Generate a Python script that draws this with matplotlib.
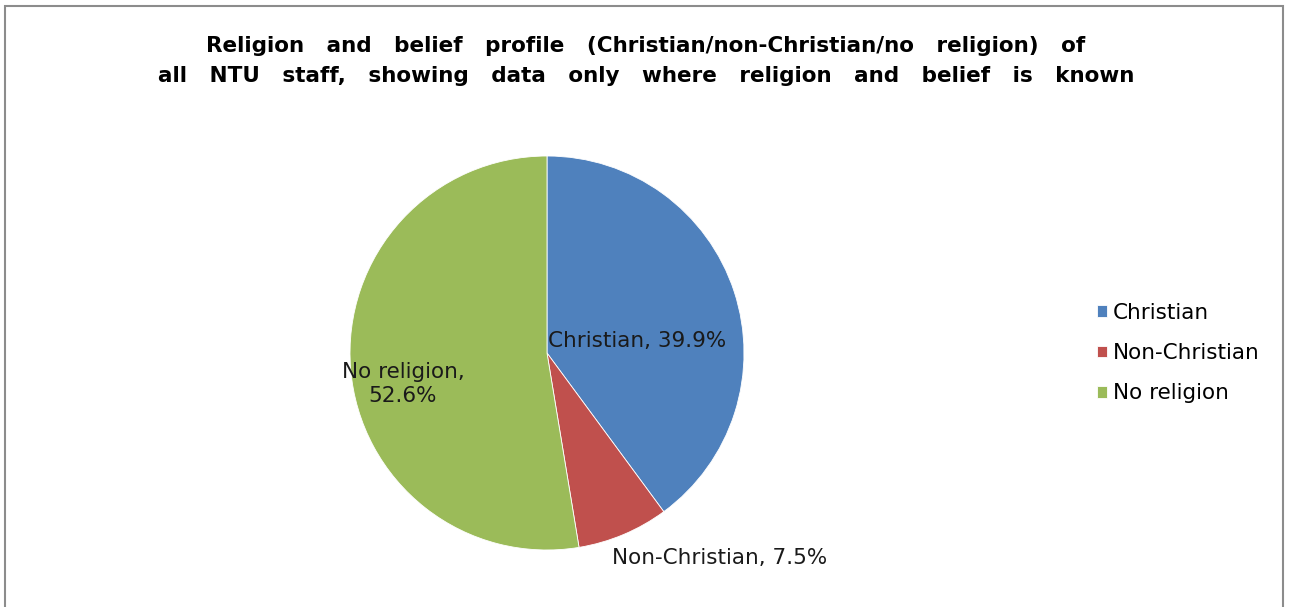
import matplotlib
matplotlib.use('Agg')
import matplotlib.pyplot as plt
from matplotlib.patches import Rectangle

# Data
labels = ['Christian', 'Non-Christian', 'No religion']
values = [39.9, 7.5, 52.6]
colors = ['#4F81BD', '#C0504D', '#9BBB59']
title = ('Religion   and   belief   profile   (Christian/non-Christian/no   religion)   of\n'
         'all   NTU   staff,   showing   data   only   where   religion   and   belief   is   known')

plt.rcParams['font.family'] = ['DejaVu Sans']

W, H = 1290, 607
fig = plt.figure(figsize=(W / 100, H / 100), dpi=100)

# outer frame
fig.add_artist(Rectangle((5 / W, -0.01), (1283 - 5) / W, 1.01 - 6 / H,
                         transform=fig.transFigure, fill=False,
                         edgecolor='#8c8c8c', linewidth=1.5))

fig.text(646 / W, 1 - 61 / H, title, ha='center', va='center',
         fontsize=15.5, fontweight='bold', linespacing=1.6)

# Pie: center (547, 353), radius 197 px
cx, cy, r = 547, 353, 197
ax = fig.add_axes([(cx - r) / W, (H - cy - r) / H, 2 * r / W, 2 * r / H])
wedges, _ = ax.pie(values, colors=colors, startangle=90, counterclock=False,
                   radius=1, wedgeprops=dict(linewidth=0.6, edgecolor='white'))
ax.set_xlim(-1, 1)
ax.set_ylim(-1, 1)
ax.axis('off')

def px(x, y):
    return ((x - cx) / r, (cy - y) / r)

pct = ['%s, %.1f%%' % (labels[0], values[0]),
       '%s, %.1f%%' % (labels[1], values[1]),
       '%s,\n%.1f%%' % (labels[2], values[2])]
ax.text(*px(637, 341), pct[0], ha='center', va='center', fontsize=15.5, color='#1a1a1a')
ax.text(*px(720, 558), pct[1], ha='center', va='center', fontsize=15.5,
        color='#1a1a1a', clip_on=False)
ax.text(*px(403, 384), pct[2], ha='center', va='center', fontsize=15.5,
        color='#1a1a1a', linespacing=1.2)

fig.legend(wedges, labels, loc='center left', bbox_to_anchor=(1097 / W, 1 - 353 / H),
           frameon=False, fontsize=15.5, handlelength=0.45, handleheight=0.45,
           handletextpad=0.3, labelspacing=0.95, borderpad=0, borderaxespad=0)

plt.savefig('out.png', dpi=100)
plt.close()
